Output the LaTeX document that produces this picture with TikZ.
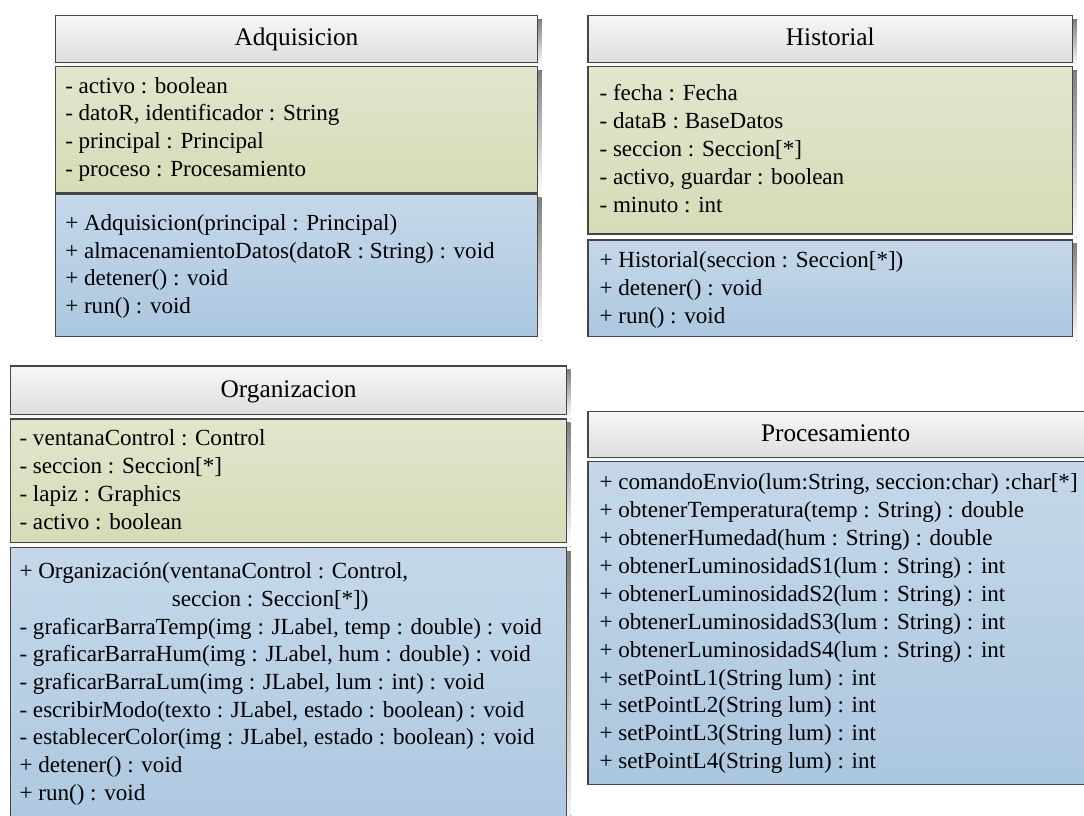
\documentclass[tikz,border=0pt]{standalone}
\usepackage{fontspec}
\setmainfont{Liberation Serif}

\definecolor{headtop}{HTML}{F7F7F7}
\definecolor{headbot}{HTML}{DEDEDE}
\definecolor{attrtop}{HTML}{E1E6CC}
\definecolor{attrbot}{HTML}{D4DCB7}
\definecolor{opstop}{HTML}{C5D8EA}
\definecolor{opsbot}{HTML}{ABC7DF}
\definecolor{edge}{HTML}{464646}
\definecolor{shade}{HTML}{E3E3E3}

% one compartment of a class box: name, style, corners (px)
\newcommand{\umlpart}[6]{%
  \fill[shade] (#3+4.5,#4+4.5) rectangle (#5+4.5,#6+4.5);
  \node[part,#2,anchor=north west,
    minimum width={(#5-#3)*0.75pt},minimum height={(#6-#4)*0.75pt}] (#1) at (#3,#4) {};}
% the text lines of a compartment: prefix, x, first baseline, step, lines
\newcommand{\members}[5]{%
  \foreach \m [count=\i] in {#5}
    \node[member] (#1-\i) at (#2,{#3+(\i-1)*#4}) {\m};}

\begin{document}
\begin{tikzpicture}[x=0.75pt,y=-0.75pt,
 part/.style={draw=edge,line width=0.9pt,rectangle,inner sep=0pt},
 head/.style={top color=headtop,bottom color=headbot},
 attrs/.style={top color=attrtop,bottom color=attrbot},
 ops/.style={top color=opstop,bottom color=opsbot},
 title/.style={font=\fontsize{19}{23}\selectfont,anchor=base,inner sep=0pt},
 member/.style={font=\fontsize{17.3}{21}\selectfont,anchor=base west,inner sep=0pt}]
\useasboundingbox (0,0) rectangle (1084,815);
\clip (0,0) rectangle (1084,815);

% Adquisicion
\umlpart{adq-head}{head}{54.7}{14.7}{537}{61.7}
\umlpart{adq-attr}{attrs}{54.7}{65.7}{537}{191.7}
\umlpart{adq-ops}{ops}{54.7}{193.3}{537}{336}
\node[title] (adq-name) at (adq-head.center |- 0,45.5) {Adquisicion};
\members{adq-a}{65}{93}{27.7}{- activo : boolean,
  {- datoR, identificador : String},
  - principal : Principal,
  - proceso : Procesamiento}
\members{adq-o}{65}{230.5}{27.6}{+ Adquisicion(principal : Principal),
  + almacenamientoDatos(datoR : String) : void,
  + detener() : void,
  + run() : void}

% Historial
\umlpart{hist-head}{head}{587.3}{14.7}{1072}{61.7}
\umlpart{hist-attr}{attrs}{587.3}{65.7}{1072}{233.3}
\umlpart{hist-ops}{ops}{587.3}{239.3}{1072}{336}
\node[title] (hist-name) at (hist-head.center |- 0,45.5) {Historial};
\members{hist-a}{599.3}{100.5}{28}{- fecha : Fecha,
  - dataB : BaseDatos,
  - seccion : Seccion[*],
  {- activo, guardar : boolean},
  - minuto : int}
\members{hist-o}{599.3}{267.7}{27.7}{+ Historial(seccion : Seccion[*]),
  + detener() : void,
  + run() : void}

% Organizacion
\umlpart{org-head}{head}{10}{365.3}{566}{414}
\umlpart{org-attr}{attrs}{10}{418.3}{566}{542}
\umlpart{org-ops}{ops}{10}{546.7}{566}{840}
\node[title] (org-name) at (org-head.center |- 0,397) {Organizacion};
\members{org-a}{19.3}{445.3}{28}{- ventanaControl : Control,
  - seccion : Seccion[*],
  - lapiz : Graphics,
  - activo : boolean}
\members{org-o}{19.3}{578.7}{27.7}{{+ Organización(ventanaControl : Control,},
  \hspace*{114.3pt}seccion : Seccion[*]),
  {- graficarBarraTemp(img : JLabel, temp : double) : void},
  {- graficarBarraHum(img : JLabel, hum : double) : void},
  {- graficarBarraLum(img : JLabel, lum : int) : void},
  {- escribirModo(texto : JLabel, estado : boolean) : void},
  {- establecerColor(img : JLabel, estado : boolean) : void},
  + detener() : void,
  + run() : void}

% Procesamiento
\umlpart{proc-head}{head}{587.3}{410.7}{1100}{456.7}
\umlpart{proc-ops}{ops}{587.3}{460.7}{1100}{784}
\node[title] (proc-name) at (835.6,441.7) {Procesamiento};
\members{proc-o}{599.3}{489.7}{27.9}{{+ comandoEnvio(lum:String, seccion:char) :char[*]},
  + obtenerTemperatura(temp : String) : double,
  + obtenerHumedad(hum : String) : double,
  + obtenerLuminosidadS1(lum : String) : int,
  + obtenerLuminosidadS2(lum : String) : int,
  + obtenerLuminosidadS3(lum : String) : int,
  + obtenerLuminosidadS4(lum : String) : int,
  + setPointL1(String lum) : int,
  + setPointL2(String lum) : int,
  + setPointL3(String lum) : int,
  + setPointL4(String lum) : int}
\end{tikzpicture}
\end{document}
